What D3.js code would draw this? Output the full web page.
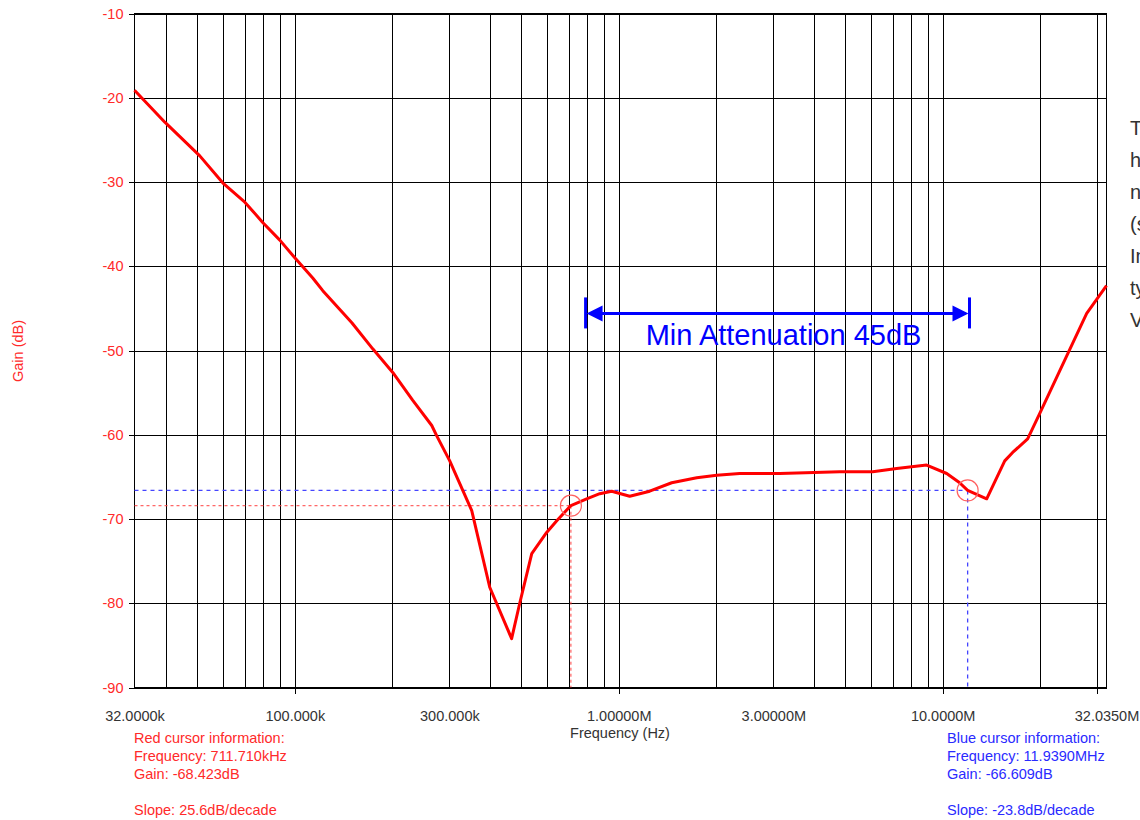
<!DOCTYPE html>
<html>
<head>
<meta charset="utf-8">
<script src="https://cdn.jsdelivr.net/npm/d3@7"></script>
<style>
  body { margin: 0; background: #fff; overflow: hidden; }
  text { font-family: "Liberation Sans", Arial, sans-serif; }
</style>
</head>
<body>
<svg id="chart"></svg>
<script>
// curve
const freqHz = [32000, 39700, 50900, 59900, 70100, 79600, 89900, 100000, 113600, 122000,
  150000, 174000, 200600, 231000, 264700, 274000, 300800, 318000, 351700, 399700,
  467000, 494700, 538800, 599000, 643600, 711710, 796000, 873700, 951000, 1081000,
  1246000, 1457000, 1741000, 2006000, 2362000, 3139000, 4810000, 6080000, 7210000, 8920000,
  10290000, 11280000, 11939000, 13670000, 15540000, 16440000, 18290000, 19920000, 24310000, 27830000,
  32035000];
const gainDb = [-19.1, -22.9, -26.9, -30.1, -32.4, -34.8, -36.9, -39.0, -41.4, -42.9,
  -46.7, -49.8, -52.6, -55.9, -58.9, -60.1, -63.1, -65.2, -69.0, -78.1,
  -84.2, -80.0, -74.1, -71.6, -70.2, -68.4, -67.6, -67.0, -66.7, -67.3,
  -66.7, -65.7, -65.1, -64.8, -64.6, -64.6, -64.4, -64.4, -64.0, -63.6,
  -64.6, -65.7, -66.6, -67.6, -63.1, -62.1, -60.5, -57.5, -50.4, -45.6,
  -42.3];

const xTickValues = [32000, 100000, 300000, 1000000, 3000000, 10000000, 32035000];
const xTickLabels = ["32.0000k", "100.000k", "300.000k", "1.00000M", "3.00000M", "10.0000M", "32.0350M"];
const xMajorTicks = [100000, 1000000, 10000000, 30000000];
const yTickValues = [-10, -20, -30, -40, -50, -60, -70, -80, -90];

const redCursor = { freq: 711710, gain: -68.423 };
const blueCursor = { freq: 11939000, gain: -66.609 };
const redInfo = ["Red cursor information:", "Frequency: 711.710kHz", "Gain: -68.423dB", "", "Slope: 25.6dB/decade"];
const blueInfo = ["Blue cursor information:", "Frequency: 11.9390MHz", "Gain: -66.609dB", "", "Slope: -23.8dB/decade"];

const spanStart = 790000, spanEnd = 12100000, spanGain = -45.6;
const spanLabel = "Min Attenuation 45dB";
const sideNote = ["T", "h", "n", "(s", "In", "ty", "V"];

const svgWidth = 1140, svgHeight = 820;
const plotLeft = 134.5, plotRight = 1106.5, plotTop = 13.5, plotBottom = 687.5;
const width = plotRight - plotLeft, height = plotBottom - plotTop;
const fontFamily = "'Liberation Sans', Arial, sans-serif";

const svg = d3.select("#chart")
  .attr("width", svgWidth)
  .attr("height", svgHeight);

svg.append("rect").attr("width", svgWidth).attr("height", svgHeight).attr("fill", "#fff");

const g = svg.append("g").attr("transform", `translate(${plotLeft},${plotTop})`);

const x = d3.scaleLog().domain([32000, 32035000]).range([0, width]);
const y = d3.scaleLinear().domain([-90, -10]).range([height, 0]);

// vertical grid 1..9 per decade
const gridX = [];
[1e4, 1e5, 1e6, 1e7].forEach(dec => {
  for (let m = 1; m <= 9; m++) {
    const v = dec * m;
    if (v > 32000 && v < 32035000) gridX.push(v);
  }
});

g.append("g")
  .attr("class", "grid")
  .attr("transform", `translate(0,${height})`)
  .call(d3.axisBottom(x).tickValues(gridX).tickSize(-height).tickFormat(""))
  .call(s => s.select(".domain").remove());

// major ticks poking below the frame
g.append("g")
  .attr("transform", `translate(0,${height})`)
  .call(d3.axisBottom(x).tickValues(xMajorTicks).tickSize(6).tickFormat(""))
  .call(s => s.select(".domain").remove());

g.append("g")
  .attr("class", "grid")
  .call(d3.axisLeft(y).tickValues(yTickValues).tickSize(-width).tickFormat(""))
  .call(s => s.select(".domain").remove());

g.selectAll(".grid line, .tick line").attr("stroke", "#000").attr("shape-rendering", "crispEdges");

// y labels
g.append("g")
  .call(d3.axisLeft(y).tickValues(yTickValues).tickSize(6).tickPadding(5).tickFormat(d => String(d)))
  .call(s => s.select(".domain").remove())
  .call(s => s.selectAll("line").attr("stroke", "#000").attr("shape-rendering", "crispEdges"))
  .call(s => s.selectAll("text").attr("fill", "#ff2a2a").style("font-size", "14.5px")
    .style("font-family", fontFamily));

// x labels
g.append("g")
  .attr("transform", `translate(0,${height})`)
  .call(d3.axisBottom(x).tickValues(xTickValues).tickSize(0).tickPadding(23)
    .tickFormat((d, i) => xTickLabels[i]))
  .call(s => s.select(".domain").remove())
  .call(s => s.selectAll("text").attr("fill", "#333").style("font-size", "14.5px")
    .style("font-family", fontFamily));

g.append("rect")
  .attr("width", width).attr("height", height)
  .attr("fill", "none").attr("stroke", "#000")
  .attr("shape-rendering", "crispEdges");

// cursor guides
function cursorLines(c, color, dash, w) {
  g.append("line")
    .attr("x1", 0).attr("x2", x(c.freq))
    .attr("y1", y(c.gain)).attr("y2", y(c.gain))
    .attr("stroke", color).attr("stroke-width", w).attr("stroke-dasharray", dash);
  g.append("line")
    .attr("x1", x(c.freq)).attr("x2", x(c.freq))
    .attr("y1", y(c.gain)).attr("y2", height)
    .attr("stroke", color).attr("stroke-width", w).attr("stroke-dasharray", dash);
}
cursorLines(redCursor, "#ff4040", "3,3", 1);
cursorLines(blueCursor, "#4444ff", "4,4", 1.3);

const line = d3.line()
  .x((d, i) => x(freqHz[i]))
  .y(d => y(d));

g.append("path")
  .datum(gainDb)
  .attr("d", line)
  .attr("fill", "none")
  .attr("stroke", "#ff0000")
  .attr("stroke-width", 3)
  .attr("stroke-linejoin", "round");

[redCursor, blueCursor].forEach(c => {
  g.append("circle")
    .attr("cx", x(c.freq)).attr("cy", y(c.gain)).attr("r", 10.5)
    .attr("fill", "none").attr("stroke", "#ff6060").attr("stroke-width", 1.2);
});

// attenuation span
const ax1 = x(spanStart), ax2 = x(spanEnd), ay = y(spanGain);
g.append("line").attr("x1", ax1 + 4).attr("x2", ax2 - 4).attr("y1", ay).attr("y2", ay)
  .attr("stroke", "#0000ff").attr("stroke-width", 3);
[ax1, ax2].forEach(px => {
  g.append("line").attr("x1", px).attr("x2", px).attr("y1", ay - 16).attr("y2", ay + 15)
    .attr("stroke", "#0000ff").attr("stroke-width", 3);
});
g.append("path")
  .attr("d", `M${ax1 + 1},${ay} L${ax1 + 17},${ay - 8} L${ax1 + 17},${ay + 8} Z`)
  .attr("fill", "#0000ff");
g.append("path")
  .attr("d", `M${ax2 - 1},${ay} L${ax2 - 17},${ay - 8} L${ax2 - 17},${ay + 8} Z`)
  .attr("fill", "#0000ff");
g.append("text")
  .attr("x", (ax1 + ax2) / 2 + 6).attr("y", ay + 32)
  .attr("text-anchor", "middle")
  .attr("fill", "#0000ff")
  .style("font-size", "29px")
  .text(spanLabel);

// axis titles
svg.append("text")
  .attr("x", 620).attr("y", 738)
  .attr("text-anchor", "middle")
  .attr("fill", "#333")
  .style("font-size", "14.5px")
  .text("Frequency (Hz)");

svg.append("text")
  .attr("transform", "rotate(-90)")
  .attr("x", -351).attr("y", 23)
  .attr("text-anchor", "middle")
  .attr("fill", "#ff2a2a")
  .style("font-size", "14.5px")
  .text("Gain (dB)");

// cursor readouts
function infoBlock(lines, px, color) {
  svg.append("g").selectAll("text")
    .data(lines)
    .enter()
    .append("text")
    .attr("x", px)
    .attr("y", (d, i) => 743 + i * 18)
    .attr("fill", color)
    .style("font-size", "14.5px")
    .text(d => d);
}
infoBlock(redInfo, 134, "#ff2a2a");
infoBlock(blueInfo, 947, "#2a2aff");

// note at the right edge, cut off by the window as in the original
svg.append("g").selectAll("text")
  .data(sideNote)
  .enter()
  .append("text")
  .attr("x", 1130)
  .attr("y", (d, i) => 135 + i * 32)
  .attr("fill", "#333")
  .style("font-size", "20px")
  .text(d => d);
</script>
</body>
</html>
